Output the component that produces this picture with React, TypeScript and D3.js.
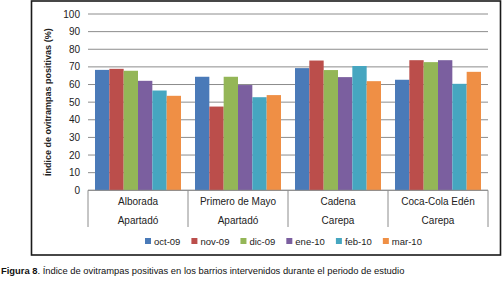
import React from "react";
import * as d3 from "d3";

const barrios = ["Alborada", "Primero de Mayo", "Cadena", "Coca-Cola Edén"];
const municipios = ["Apartadó", "Apartadó", "Carepa", "Carepa"];
const meses = ["oct-09", "nov-09", "dic-09", "ene-10", "feb-10", "mar-10"];
const oct09 = [68.3, 64.4, 69.3, 62.7];
const nov09 = [68.9, 47.5, 73.6, 73.8];
const dic09 = [67.8, 64.4, 68.2, 72.7];
const ene10 = [62.1, 59.7, 64.2, 73.8];
const feb10 = [56.6, 52.8, 70.5, 60.4];
const mar10 = [53.6, 54.0, 61.9, 67.2];
const series = [oct09, nov09, dic09, ene10, feb10, mar10];
const colors = ["#4a7ab8", "#bb4e4b", "#94b657", "#7b5f9f", "#46a6c0", "#ef8f45"];
const yTicks = [0, 10, 20, 30, 40, 50, 60, 70, 80, 90, 100];

const font = "Liberation Sans, Arial, sans-serif";

function measure(t: string, size: number): number {
  const c = document.createElement("canvas").getContext("2d");
  if (!c) return t.length * size * 0.55;
  c.font = `${size}px ${font}`;
  return c.measureText(t).width;
}

export default function App() {
  const W = 504, H = 281;
  const left = 88, right = 488, top = 14, bottom = 190.3;
  const x0 = d3.scaleBand().domain(barrios).range([left, right]).padding(0);
  const x1 = d3.scaleBand().domain(meses).range([7, x0.bandwidth() - 7]).padding(0);
  const y = d3.scaleLinear().domain([0, 100]).range([bottom, top]);
  const legSize = 9.5;
  let lx = 145;
  const legendPos = meses.map((m) => { const p = lx; lx += 9 + measure(m, legSize) + 11; return p; });
  return (
    <svg width={W} height={H} style={{ position: "absolute", left: 0, top: 0 }} fontFamily={font}>
      <rect x={0} y={0} width={W} height={H} fill="#fff" />
      <rect x={31.5} y={1} width={469} height={254} fill="none" stroke="#1a1a1a" strokeWidth={1.6} />
      {yTicks.map((t) => (
        <g key={t}>
          <line x1={left} x2={right} y1={y(t)} y2={y(t)} stroke="#8c8c8c" strokeWidth={1} />
          <text x={80} y={y(t) + 3.5} fontSize={10} textAnchor="end" fill="#222">{t}</text>
        </g>
      ))}
      {barrios.map((b, i) => (
        <g key={b}>
          {series.map((s, j) => (
            <rect key={j} x={(x0(b) as number) + (x1(meses[j]) as number)} y={y(s[i])}
              width={x1.bandwidth()} height={bottom - y(s[i])} fill={colors[j]} />
          ))}
          <text x={(x0(b) as number) + x0.bandwidth() / 2} y={205} fontSize={10} textAnchor="middle" fill="#222">{b}</text>
          <text x={(x0(b) as number) + x0.bandwidth() / 2} y={223.5} fontSize={10} textAnchor="middle" fill="#222">{municipios[i]}</text>
        </g>
      ))}
      {[...barrios.map((b) => x0(b) as number), right].map((xx, k) => (
        <line key={k} x1={xx} x2={xx} y1={bottom} y2={227} stroke="#8c8c8c" strokeWidth={1} />
      ))}
      <line x1={left} x2={right} y1={bottom} y2={bottom} stroke="#8c8c8c" strokeWidth={1} />
      <text transform={`translate(51,${(top + bottom) / 2}) rotate(-90)`} fontSize={9} fontWeight="bold" textAnchor="middle" fill="#222">
        Índice de ovitrampas positivas (%)
      </text>
      {meses.map((m, j) => (
        <g key={m}>
          <rect x={legendPos[j]} y={238} width={6} height={6} fill={colors[j]} />
          <text x={legendPos[j] + 9} y={244.5} fontSize={legSize} fill="#222">{m}</text>
        </g>
      ))}
      <text x={1} y={274} fontSize={9.4} fill="#111">
        <tspan fontWeight="bold">Figura 8</tspan>. Índice de ovitrampas positivas en los barrios intervenidos durante el periodo de estudio
      </text>
    </svg>
  );
}
